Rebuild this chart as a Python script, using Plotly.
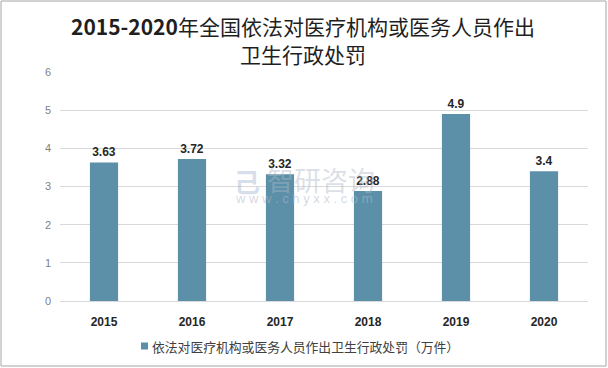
import plotly.graph_objects as go

years = ["2015", "2016", "2017", "2018", "2019", "2020"]
values = [3.63, 3.72, 3.32, 2.88, 4.9, 3.4]
value_labels = ["3.63", "3.72", "3.32", "2.88", "4.9", "3.4"]
y_ticks = [0, 1, 2, 3, 4, 5, 6]
series_name = "依法对医疗机构或医务人员作出卫生行政处罚（万件）"
title_years = "2015-2020"
title_line1 = "年全国依法对医疗机构或医务人员作出"
title_line2 = "卫生行政处罚"

BAR_COLOR = "#5B90A8"
W, H = 608, 368
ml, mr, mt, mb = 60, 20, 72, 67
pw, ph = W - ml - mr, H - mt - mb


def px_x(x):
    return (x - ml) / pw


def px_y(y):
    return (H - mb - y) / ph


fig = go.Figure()
fig.add_trace(go.Bar(
    x=years, y=values, name=series_name, showlegend=False,
    marker=dict(color=BAR_COLOR, line=dict(width=0)),
    text=value_labels, textposition="outside", cliponaxis=False,
    textfont=dict(family="Liberation Sans, Arial", size=12, color="#262626"),
    texttemplate="<b>%{text}</b>",
))

fig.update_layout(
    width=W, height=H,
    margin=dict(l=ml, r=mr, t=mt, b=mb, autoexpand=False),
    paper_bgcolor="white", plot_bgcolor="white",
    bargap=0.68,
    xaxis=dict(showgrid=False, showline=True, linecolor="#D9D9D9", linewidth=1,
               ticks="", automargin=False, ticklabelstandoff=10,
               tickfont=dict(family="Liberation Sans, Arial", size=12, color="#262626"),
               tickprefix="<b>", ticksuffix="</b>", fixedrange=True),
    yaxis=dict(range=[0, 6], tickvals=y_ticks, showgrid=True, gridcolor="#D9D9D9",
               zeroline=False, showline=False, ticks="", ticklen=0, automargin=False,
               ticklabelstandoff=8, fixedrange=True,
               tickfont=dict(family="Liberation Sans, Arial", size=11, color="#7F7F7F")),
    showlegend=False,
    font=dict(family="Noto Sans CJK SC"),
)

# title (two lines)
fig.add_annotation(
    text="<b>" + title_years + "</b>" + title_line1, xref="paper", yref="paper",
    x=px_x(303), y=px_y(26), xanchor="center", yanchor="middle", showarrow=False,
    font=dict(family="Noto Sans CJK SC", size=21, color="#1F1F1F"))
fig.add_annotation(
    text=title_line2, xref="paper", yref="paper",
    x=px_x(303), y=px_y(54), xanchor="center", yanchor="middle", showarrow=False,
    font=dict(family="Noto Sans CJK SC", size=21, color="#1F1F1F"))

# legend (custom: small square + text)
fig.add_shape(type="rect", xref="paper", yref="paper",
              x0=px_x(141), x1=px_x(148), y0=px_y(349.5), y1=px_y(342.5),
              line=dict(width=0), fillcolor=BAR_COLOR)
fig.add_annotation(text=series_name, xref="paper", yref="paper",
                   x=px_x(150), y=px_y(346), xanchor="left", yanchor="middle",
                   showarrow=False,
                   font=dict(family="Noto Sans CJK SC", size=12.8, color="#404040"))

# outer border
fig.add_shape(type="rect", xref="paper", yref="paper",
              x0=px_x(1), x1=px_x(W - 2), y0=px_y(H - 2), y1=px_y(1),
              line=dict(color="#A6A6A6", width=1), fillcolor="rgba(0,0,0,0)", layer="above")

# watermark
fig.add_annotation(text="智研咨询", xref="paper", yref="paper",
                   x=px_x(321), y=px_y(179), showarrow=False,
                   font=dict(family="Noto Sans CJK SC", size=27, color="rgba(175,185,200,0.45)"))
fig.add_annotation(text="w w w . c h y x x . c o m", xref="paper", yref="paper",
                   x=px_x(304), y=px_y(198), showarrow=False,
                   font=dict(family="Liberation Sans", size=13, color="rgba(175,185,200,0.55)"))
fig.add_annotation(text="<b>己</b>", xref="paper", yref="paper",
                   x=px_x(247), y=px_y(180), showarrow=False,
                   font=dict(family="Noto Sans CJK SC", size=26, color="rgba(150,170,205,0.4)"))

fig.write_html("out.html", config={"displayModeBar": False},
               post_script="document.body.style.margin='0';document.body.style.overflow='hidden';")
